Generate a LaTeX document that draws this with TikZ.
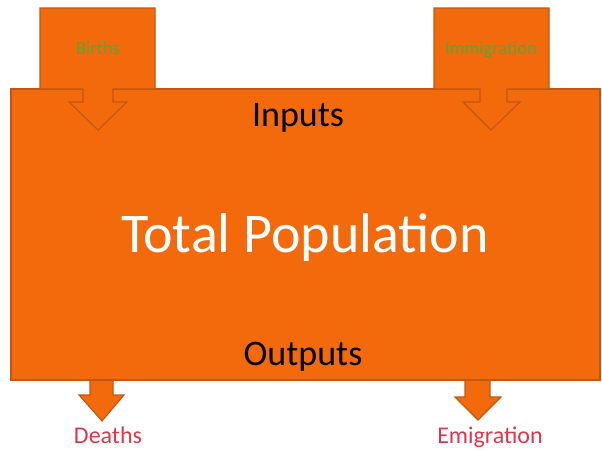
\documentclass[tikz,border=0pt]{standalone}
\usepackage{fontspec}
\setmainfont{Carlito}
\definecolor{popfill}{HTML}{F26A0C}
\definecolor{popline}{HTML}{C4570F}
\definecolor{ingreen}{HTML}{62A232}
\definecolor{outred}{HTML}{E0354B}
\tikzset{
  popbox/.style={fill=popfill,draw=popline,line width=1.1pt},
  inlabel/.style={text=ingreen,anchor=base,font=\fontsize{18.5}{22}\selectfont},
  outlabel/.style={text=outred,anchor=base,font=\fontsize{24}{28}\selectfont},
  flowlabel/.style={text=black,font=\fontsize{36}{40}\selectfont}
}
\begin{document}
\begin{tikzpicture}[x=1pt,y=-1pt]
\useasboundingbox (0,0) rectangle (602,450);

\draw[popbox] (90,370)--(113,370)--(113,395)--(124,395)--(102,421)--(79,395)--(90,395)--cycle;
\draw[popbox] (465,370)--(490,370)--(490,397)--(501,397)--(478,420)--(455,397)--(465,397)--cycle;

\node[popbox,minimum width=589,minimum height=291,inner sep=0] (pop) at (305.5,234.5) {};

\draw[popbox] (40,8)--(155,8)--(155,89)--(113,89)--(113,102)--(127,102)--(98,130)--(69,102)--(83,102)--(83,89)--(40,89)--cycle;
\draw[popbox] (434,8)--(549,8)--(549,89)--(507,89)--(507,102)--(520,102)--(491,130)--(463,102)--(480,102)--(480,89)--(434,89)--cycle;

\node[inlabel] (births) at (98,54) {Births};
\node[inlabel] (immig) at (491,54) {Immigration};
\node[flowlabel] (inputs) at (298,118) {Inputs};
\node[text=white,font=\fontsize{56}{60}\selectfont] (total) at (305,238) {Total Population};
\node[flowlabel] (outputs) at (303,357) {Outputs};
\node[outlabel] (deaths) at (108,443) {Deaths};
\node[outlabel] (emig) at (490,443) {Emigration};
\end{tikzpicture}
\end{document}
